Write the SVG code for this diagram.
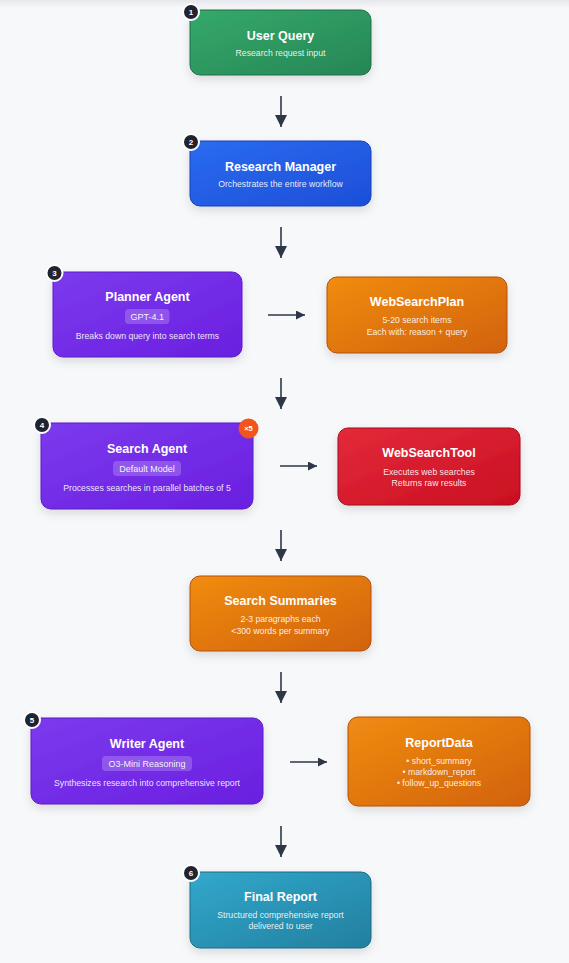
<svg xmlns="http://www.w3.org/2000/svg" width="569" height="963" viewBox="0 0 569 963">
<defs>
<linearGradient id="gGreen" x1="0" y1="0" x2="1" y2="1"><stop offset="0" stop-color="#35a96a"/><stop offset="1" stop-color="#268656"/></linearGradient>
<linearGradient id="gBlue" x1="0" y1="0" x2="1" y2="1"><stop offset="0" stop-color="#2a6cf0"/><stop offset="1" stop-color="#1d4ed8"/></linearGradient>
<linearGradient id="gPurple" x1="0" y1="0" x2="1" y2="1"><stop offset="0" stop-color="#7c3aed"/><stop offset="1" stop-color="#6a1fe0"/></linearGradient>
<linearGradient id="gOrange" x1="0" y1="0" x2="1" y2="1"><stop offset="0" stop-color="#f08c12"/><stop offset="1" stop-color="#d2620c"/></linearGradient>
<linearGradient id="gRed" x1="0" y1="0" x2="1" y2="1"><stop offset="0" stop-color="#e42a3a"/><stop offset="1" stop-color="#c90f22"/></linearGradient>
<linearGradient id="gTeal" x1="0" y1="0" x2="1" y2="1"><stop offset="0" stop-color="#31a8cc"/><stop offset="1" stop-color="#237f9f"/></linearGradient>
<linearGradient id="gTop" x1="0" y1="0" x2="0" y2="1"><stop offset="0" stop-color="#e6e7ea"/><stop offset="1" stop-color="#f7f8fa"/></linearGradient>
<filter id="sh" x="-20%" y="-20%" width="140%" height="160%"><feDropShadow dx="0" dy="4" stdDeviation="5" flood-color="#000" flood-opacity="0.12"/></filter>
<marker id="ah" viewBox="0 0 10 10" refX="10" refY="5" markerWidth="9" markerHeight="9" markerUnits="userSpaceOnUse" orient="auto"><path d="M0,0 L10,5 L0,10 z" fill="#2d3748"/></marker>
<marker id="av" viewBox="0 0 10 10" refX="10" refY="5" markerWidth="12" markerHeight="12" markerUnits="userSpaceOnUse" orient="auto"><path d="M0,0 L10,5 L0,10 z" fill="#2d3748"/></marker>
</defs>
<style>
.t{font-family:"Liberation Sans",Arial,sans-serif;font-size:12.5px;font-weight:bold;fill:#fff;text-anchor:middle}
.s{font-family:"Liberation Sans",Arial,sans-serif;font-size:8.7px;fill:#fff;fill-opacity:0.9;text-anchor:middle}
.p{font-family:"Liberation Sans",Arial,sans-serif;font-size:9px;fill:#fff;fill-opacity:0.95;text-anchor:middle}
.pill{fill:#fff;fill-opacity:0.2}
.bn{font-family:"Liberation Sans",Arial,sans-serif;font-size:8px;font-weight:bold;fill:#fff;text-anchor:middle}
.bc{fill:#1f2430;stroke:#fff;stroke-width:2}
.c{stroke:#2d3748;stroke-width:1.6;fill:none}
</style>
<rect width="569" height="963" fill="#f7f8fa"/>
<rect width="569" height="8" fill="url(#gTop)"/>

<g id="connectors">
<line class="c" x1="281" y1="96" x2="281" y2="127" marker-end="url(#av)"/>
<line class="c" x1="281" y1="227" x2="281" y2="258" marker-end="url(#av)"/>
<line class="c" x1="268" y1="315" x2="305" y2="315" marker-end="url(#ah)"/>
<line class="c" x1="281" y1="378" x2="281" y2="409" marker-end="url(#av)"/>
<line class="c" x1="280" y1="466" x2="317" y2="466" marker-end="url(#ah)"/>
<line class="c" x1="281" y1="530" x2="281" y2="561" marker-end="url(#av)"/>
<line class="c" x1="281" y1="672" x2="281" y2="703" marker-end="url(#av)"/>
<line class="c" x1="290" y1="762" x2="327" y2="762" marker-end="url(#ah)"/>
<line class="c" x1="281" y1="826" x2="281" y2="857" marker-end="url(#av)"/>
</g>

<g id="user-query">
<rect x="190" y="10" width="181" height="65" rx="10" fill="url(#gGreen)" stroke="#1f6e47" stroke-width="1" filter="url(#sh)"/>
<text class="t" x="280.5" y="39.5">User Query</text>
<text class="s" x="280.5" y="55.5">Research request input</text>
<circle class="bc" cx="191" cy="12" r="8"/>
<text class="bn" x="191" y="15">1</text>
</g>

<g id="research-manager">
<rect x="190" y="141" width="181" height="65" rx="10" fill="url(#gBlue)" stroke="#1a3fb5" stroke-width="1" filter="url(#sh)"/>
<text class="t" x="280.5" y="170.5">Research Manager</text>
<text class="s" x="280.5" y="186.5">Orchestrates the entire workflow</text>
<circle class="bc" cx="191" cy="142" r="8"/>
<text class="bn" x="191" y="145">2</text>
</g>

<g id="planner-agent">
<rect x="53" y="272" width="189" height="85" rx="10" fill="url(#gPurple)" stroke="#5b1dc4" stroke-width="1" filter="url(#sh)"/>
<text class="t" x="147.5" y="301">Planner Agent</text>
<rect class="pill" x="125" y="309" width="44.5" height="15" rx="4"/>
<text class="p" x="147.3" y="320">GPT-4.1</text>
<text class="s" x="147.5" y="338.5">Breaks down query into search terms</text>
<circle class="bc" cx="54.5" cy="273" r="8"/>
<text class="bn" x="54.5" y="276">3</text>
</g>

<g id="web-search-plan">
<rect x="327" y="277" width="180" height="76" rx="10" fill="url(#gOrange)" stroke="#b3500a" stroke-width="1" filter="url(#sh)"/>
<text class="t" x="417" y="306">WebSearchPlan</text>
<text class="s" x="417" y="322.5">5-20 search items</text>
<text class="s" x="417" y="334.5">Each with: reason + query</text>
</g>

<g id="search-agent">
<rect x="41" y="423" width="212" height="86" rx="10" fill="url(#gPurple)" stroke="#5b1dc4" stroke-width="1" filter="url(#sh)"/>
<text class="t" x="147" y="452.5">Search Agent</text>
<rect class="pill" x="113" y="461" width="68" height="15" rx="4"/>
<text class="p" x="147" y="471.5">Default Model</text>
<text class="s" x="147" y="490.5">Processes searches in parallel batches of 5</text>
<circle class="bc" cx="42" cy="425" r="8"/>
<text class="bn" x="42" y="428">4</text>
<circle cx="248.5" cy="428.5" r="10" fill="#f2541b"/>
<text class="bn" x="248.5" y="431.3" style="font-size:7.5px">×5</text>
</g>

<g id="web-search-tool">
<rect x="338" y="428" width="182" height="77" rx="10" fill="url(#gRed)" stroke="#a50d1d" stroke-width="1" filter="url(#sh)"/>
<text class="t" x="429" y="457">WebSearchTool</text>
<text class="s" x="429" y="474.5">Executes web searches</text>
<text class="s" x="429" y="485.5">Returns raw results</text>
</g>

<g id="search-summaries">
<rect x="190" y="576" width="181" height="75" rx="10" fill="url(#gOrange)" stroke="#b3500a" stroke-width="1" filter="url(#sh)"/>
<text class="t" x="280.5" y="604.5">Search Summaries</text>
<text class="s" x="280.5" y="621.5">2-3 paragraphs each</text>
<text class="s" x="280.5" y="633.5">&lt;300 words per summary</text>
</g>

<g id="writer-agent">
<rect x="31" y="718" width="232" height="86" rx="10" fill="url(#gPurple)" stroke="#5b1dc4" stroke-width="1" filter="url(#sh)"/>
<text class="t" x="147" y="747.5">Writer Agent</text>
<rect class="pill" x="102" y="756" width="90" height="15" rx="4"/>
<text class="p" x="147" y="766.5">O3-Mini Reasoning</text>
<text class="s" x="147" y="785.5">Synthesizes research into comprehensive report</text>
<circle class="bc" cx="32" cy="720" r="8"/>
<text class="bn" x="32" y="723">5</text>
</g>

<g id="report-data">
<rect x="348" y="717" width="182" height="89" rx="10" fill="url(#gOrange)" stroke="#b3500a" stroke-width="1" filter="url(#sh)"/>
<text class="t" x="439" y="747">ReportData</text>
<text class="s" x="439" y="763.5">• short_summary</text>
<text class="s" x="439" y="775">• markdown_report</text>
<text class="s" x="439" y="786">• follow_up_questions</text>
</g>

<g id="final-report">
<rect x="190" y="872" width="181" height="76" rx="10" fill="url(#gTeal)" stroke="#1c6984" stroke-width="1" filter="url(#sh)"/>
<text class="t" x="280.5" y="900.5">Final Report</text>
<text class="s" x="280.5" y="917.5">Structured comprehensive report</text>
<text class="s" x="280.5" y="929">delivered to user</text>
<circle class="bc" cx="191" cy="873" r="8"/>
<text class="bn" x="191" y="876">6</text>
</g>
</svg>
